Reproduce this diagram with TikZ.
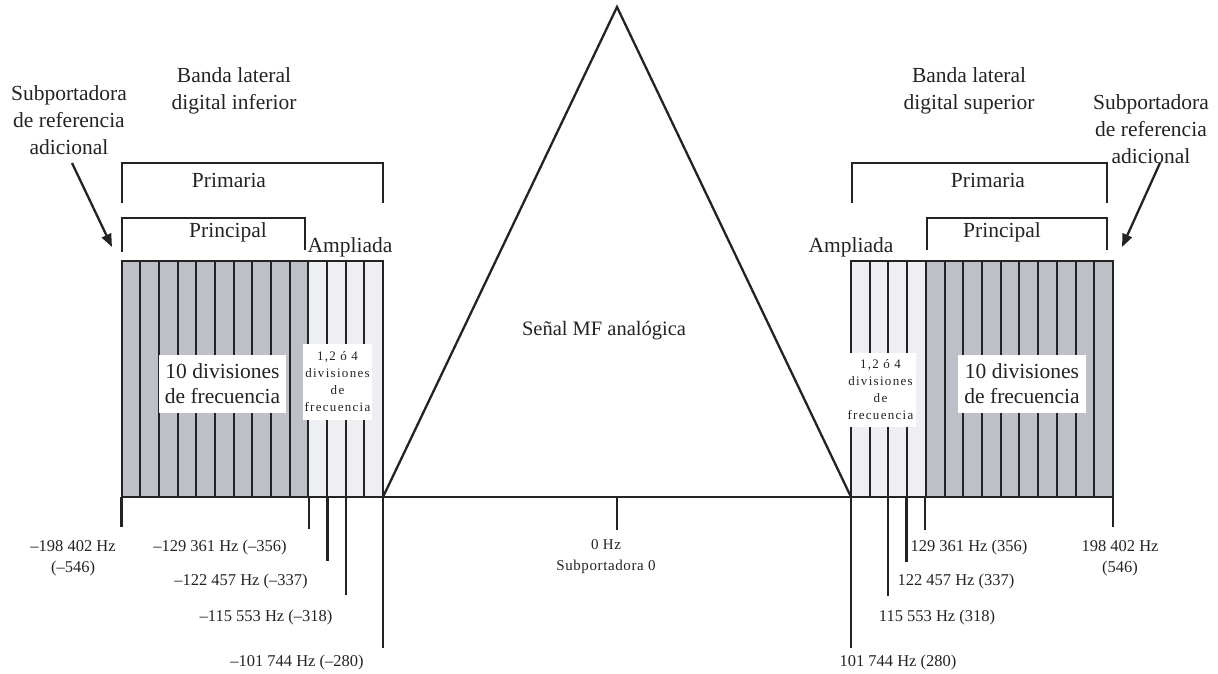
\documentclass[tikz,border=0pt]{standalone}
\usepackage{fontspec}
\setmainfont{Liberation Serif}
\newfontfamily\spacedfont[LetterSpace=10]{Liberation Serif}
\newfontfamily\spacedsm[LetterSpace=4]{Liberation Serif}
\usetikzlibrary{arrows.meta}
\definecolor{stripeD}{RGB}{189,192,198}
\definecolor{stripeL}{RGB}{238,239,243}
\definecolor{ink}{RGB}{35,35,35}
\begin{document}
\begin{tikzpicture}[x=1pt,y=-1pt,
  ln/.style={line width=2.3pt, draw=ink},
  stripe/.style={line width=2pt, draw=ink},
  lbl/.style={font=\fontsize{21.5}{27}\selectfont, align=center, inner sep=0pt, text=ink},
  hz/.style={font=\fontsize{16.5}{21}\selectfont, align=center, inner sep=0pt, text=ink},
  boxbig/.style={fill=white, inner sep=0pt, align=center, text=ink, font=\fontsize{21.5}{25}\selectfont},
  boxsmall/.style={fill=white, inner sep=0pt, align=center, text=ink, font=\spacedfont\fontsize{13}{17}\selectfont},
  arr/.style={line width=2.3pt, draw=ink, -{Triangle[length=13pt,width=10pt]}}
]
\useasboundingbox (0,0) rectangle (1218,674);

% ---- left block stripes
\foreach \i in {0,...,9}
  \filldraw[stripe, fill=stripeD] ({121.5+\i*18.68},261) rectangle ({121.5+(\i+1)*18.68},497);
\foreach \i in {10,...,13}
  \filldraw[stripe, fill=stripeL] ({121.5+\i*18.68},261) rectangle ({121.5+(\i+1)*18.68},497);
% ---- right block stripes
\foreach \i in {0,...,3}
  \filldraw[stripe, fill=stripeL] ({851+\i*18.72},261) rectangle ({851+(\i+1)*18.72},497);
\foreach \i in {4,...,13}
  \filldraw[stripe, fill=stripeD] ({851+\i*18.72},261) rectangle ({851+(\i+1)*18.72},497);

% ---- coordinates
\coordinate (BL) at (121.5,497);
\coordinate (BR) at (1113,497);
\coordinate (TL) at (383,497);
\coordinate (apex) at (617,7);
\coordinate (TR) at (851,497);
\coordinate (C0) at (617,497);   \coordinate (C0b) at (617,530);
% left ticks
\coordinate (l1) at (121.5,497); \coordinate (l1b) at (121.5,527);
\coordinate (l2) at (309,497);   \coordinate (l2b) at (309,529);
\coordinate (l3) at (327.5,497); \coordinate (l3b) at (327.5,561);
\coordinate (l4) at (346,497);   \coordinate (l4b) at (346,595);
\coordinate (l5) at (383,497);   \coordinate (l5b) at (383,648);
% right ticks
\coordinate (r1) at (1113,497);  \coordinate (r1b) at (1113,527);
\coordinate (r2) at (925,497);   \coordinate (r2b) at (925,530);
\coordinate (r3) at (906.5,497); \coordinate (r3b) at (906.5,562);
\coordinate (r4) at (888,497);   \coordinate (r4b) at (888,596);
\coordinate (r5) at (851,497);   \coordinate (r5b) at (851,648);

% ---- baseline, triangle, ticks
\draw[ln] (BL) -- (BR);
\draw[ln, line join=miter] (TL) -- (apex) -- (TR);
\draw[ln] (C0) -- (C0b);
\foreach \t in {l1,l2,l3,l4,l5,r1,r2,r3,r4,r5}
  \draw[ln] (\t) -- (\t b);

% ---- brackets
\coordinate (pLa) at (122,203); \coordinate (pLb) at (122,163);
\coordinate (pLc) at (383,163); \coordinate (pLd) at (383,203);
\draw[ln] (pLa) -- (pLb) -- (pLc) -- (pLd);
\coordinate (qLa) at (122,252); \coordinate (qLb) at (122,218);
\coordinate (qLc) at (305,218); \coordinate (qLd) at (305,250);
\draw[ln] (qLa) -- (qLb) -- (qLc) -- (qLd);
\coordinate (pRa) at (852,203); \coordinate (pRb) at (852,163);
\coordinate (pRc) at (1107,163); \coordinate (pRd) at (1107,203);
\draw[ln] (pRa) -- (pRb) -- (pRc) -- (pRd);
\coordinate (qRa) at (927,250); \coordinate (qRb) at (927,218);
\coordinate (qRc) at (1107,218); \coordinate (qRd) at (1107,250);
\draw[ln] (qRa) -- (qRb) -- (qRc) -- (qRd);

% ---- arrows
\coordinate (aLs) at (72,163);  \coordinate (aLe) at (112,247);
\coordinate (aRs) at (1160,163); \coordinate (aRe) at (1122,247);
\draw[arr] (aLs) -- (aLe);
\draw[arr] (aRs) -- (aRe);

% ---- top labels
\node[lbl] (bandaL) at (234,91) {Banda lateral\\digital inferior};
\node[lbl] (bandaR) at (969,91) {Banda lateral\\digital superior};
\node[lbl] (subL) at (69,120) {Subportadora\\de referencia\\adicional};
\node[lbl] (subR) at (1151,129) {Subportadora\\de referencia\\adicional};
\node[lbl] (primL) at (229,180) {Primaria};
\node[lbl] (primR) at (988,180) {Primaria};
\node[lbl] (princL) at (228,232) {Principal};
\node[lbl] (princR) at (1002,232) {Principal};
\node[lbl] (ampL) at (350,247) {Ampliada};
\node[lbl] (ampR) at (851,247) {Ampliada};
\node[lbl, font=\fontsize{20.5}{25}\selectfont] (senal) at (604,331) {Señal MF analógica};

% ---- white boxes
\node[boxbig, minimum width=127pt, minimum height=58pt] (dL) at (222.5,384) {10 divisiones\\de frecuencia};
\node[boxbig, minimum width=128pt, minimum height=58pt] (dR) at (1022,384) {10 divisiones\\de frecuencia};
\node[boxsmall, minimum width=69pt, minimum height=76pt] (sL) at (337.5,382) {1,2 ó 4\\divisiones\\de\\frecuencia};
\node[boxsmall, minimum width=71pt, minimum height=74pt] (sR) at (880.5,390) {1,2 ó 4\\divisiones\\de\\frecuencia};

% ---- bottom labels
\node[hz] (h1) at (73,558) {\textendash198 402 Hz\\(\textendash546)};
\node[hz] (h2) at (220,548) {\textendash129 361 Hz (\textendash356)};
\node[hz] (h3) at (241,582) {\textendash122 457 Hz (\textendash337)};
\node[hz] (h4) at (266,618) {\textendash115 553 Hz (\textendash318)};
\node[hz] (h5) at (297,663) {\textendash101 744 Hz (\textendash280)};
\node[hz] (k1) at (1120,558) {198 402 Hz\\(546)};
\node[hz] (k2) at (969,548) {129 361 Hz (356)};
\node[hz] (k3) at (956,582) {122 457 Hz (337)};
\node[hz] (k4) at (937,618) {115 553 Hz (318)};
\node[hz] (k5) at (898,663) {101 744 Hz (280)};
\node[hz, font=\spacedsm\fontsize{15}{21}\selectfont] (zero) at (606,557) {0 Hz\\Subportadora 0};
\end{tikzpicture}
\end{document}
